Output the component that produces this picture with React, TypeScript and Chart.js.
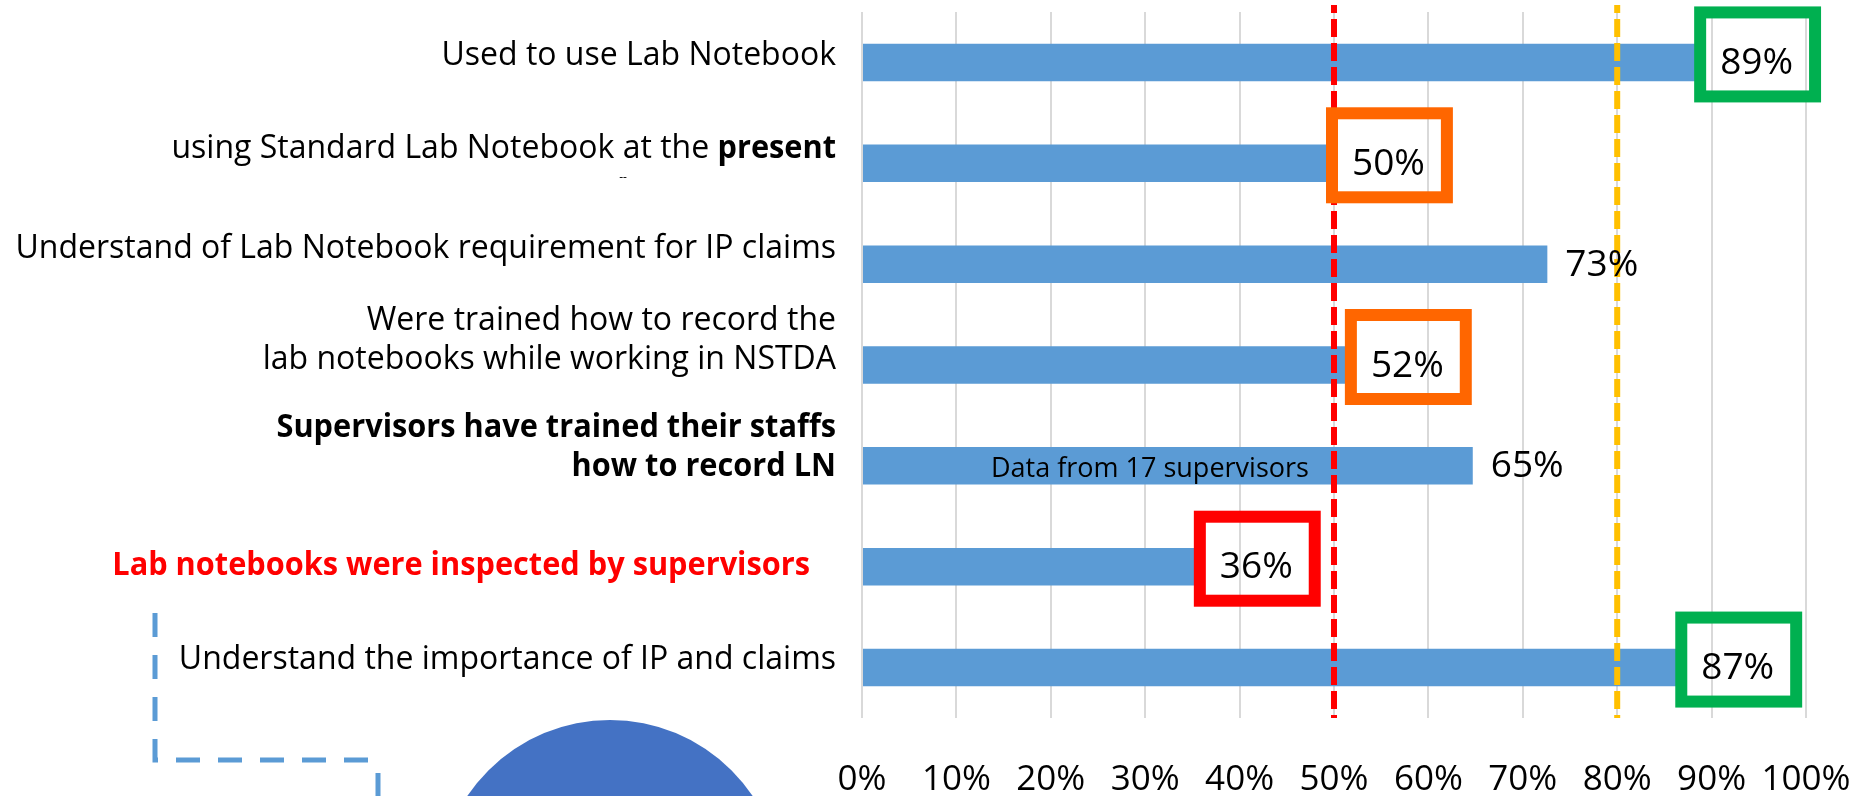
import React, { useEffect, useRef } from "react";
import { Chart, registerables } from "chart.js";

Chart.register(...registerables);

// ---------- data ----------
const categories: (string | string[])[] = [
  "Used to use Lab Notebook",
  "using Standard Lab Notebook at the present",
  "Understand of Lab Notebook requirement for IP claims",
  ["Were trained how to record the", "lab notebooks while working in NSTDA"],
  ["Supervisors have trained their staffs", "how to record LN"],
  "Lab notebooks were inspected by supervisors",
  "Understand the importance of IP and claims",
];
const values = [89, 50, 72.6, 52, 64.7, 36, 87];
const valueLabels = ["89%", "50%", "73%", "52%", "65%", "36%", "87%"];
const xTickLabels = ["0%", "10%", "20%", "30%", "40%", "50%", "60%", "70%", "80%", "90%", "100%"];
const thresholdValues = [50, 80];
const thresholdColors = ["#FF0000", "#FFC000"];
const highlightColors = ["#00B050", "#FF6600", "", "#FF6600", "", "#FF0000", "#00B050"];
const boldCategories = [4, 5];
const redCategories = [5];
const boldPhrases = ["present"];
const noteText = "Data from 17 supervisors";
const noteCategory = 4;
const noteValue = 30.5;

// ---------- layout / style ----------
const FONT = '"Open Sans", sans-serif';
const BAR_COLOR = "#5B9BD5";
const labelShiftY = [-9, -17, -18, -27, -21, -3, -10];
const labelShiftX = [0, 0, 0, 0, 0, -26, 0];
const LABEL_RIGHT = 836;
const LABEL_SIZE = 32;
const LABEL_LINE = 39;
const BOLD_SQUEEZE = 0.96;

function splitSegments(line: string, allBold: boolean): [string, boolean][] {
  if (allBold) return [[line, true]];
  for (const p of boldPhrases) {
    const i = line.indexOf(p);
    if (i >= 0) {
      const out: [string, boolean][] = [];
      if (i > 0) out.push([line.slice(0, i), false]);
      out.push([p, true]);
      if (i + p.length < line.length) out.push([line.slice(i + p.length), false]);
      return out;
    }
  }
  return [[line, false]];
}

const overlayPlugin = {
  id: "overlay",
  afterDatasetsDraw(chart: any) {
    const { ctx, chartArea } = chart;
    const xs = chart.scales.x;
    const ys = chart.scales.y;
    const meta = chart.getDatasetMeta(0);

    // note text inside bar
    ctx.save();
    ctx.font = `27px ${FONT}`;
    ctx.fillStyle = "#000";
    ctx.textAlign = "center";
    ctx.textBaseline = "alphabetic";
    ctx.fillText(noteText, xs.getPixelForValue(noteValue), ys.getPixelForValue(noteCategory) + 11);
    ctx.restore();

    // threshold dashed lines
    thresholdValues.forEach((v, i) => {
      const x = xs.getPixelForValue(v);
      ctx.save();
      ctx.strokeStyle = thresholdColors[i];
      ctx.lineWidth = 6;
      ctx.setLineDash([18, 6]);
      ctx.lineDashOffset = 10;
      ctx.beginPath();
      ctx.moveTo(x, chartArea.top - 7);
      ctx.lineTo(x, chartArea.bottom);
      ctx.stroke();
      ctx.restore();
    });

    // value labels + highlight boxes
    meta.data.forEach((bar: any, i: number) => {
      const lx = bar.x + 18;
      const cy = bar.y;
      ctx.save();
      ctx.font = `37px ${FONT}`;
      ctx.fillStyle = "#000";
      ctx.textAlign = "left";
      ctx.textBaseline = "middle";
      const w = ctx.measureText(valueLabels[i]).width;
      ctx.fillText(valueLabels[i], lx, cy + 1);
      if (highlightColors[i]) {
        const L = lx - 26;
        const R = lx + w + 28;
        const T = cy - 8 - 48;
        const B = cy - 8 + 48;
        ctx.strokeStyle = highlightColors[i];
        ctx.lineWidth = 12;
        ctx.setLineDash([]);
        ctx.strokeRect(L + 6, T + 6, R - L - 12, B - T - 12);
      }
      ctx.restore();
    });

    // category labels
    categories.forEach((cat, i) => {
      const lines = Array.isArray(cat) ? cat : [cat];
      const bold = boldCategories.includes(i);
      const color = redCategories.includes(i) ? "#FF0000" : "#000000";
      const center = ys.getPixelForValue(i) + labelShiftY[i];
      const right = LABEL_RIGHT + labelShiftX[i];
      const capHalf = (0.714 * LABEL_SIZE) / 2;
      lines.forEach((line, j) => {
        const baseline = center + capHalf + (j - (lines.length - 1) / 2) * LABEL_LINE;
        const segs = splitSegments(line, bold);
        ctx.save();
        ctx.fillStyle = color;
        ctx.textBaseline = "alphabetic";
        ctx.textAlign = "left";
        const widths = segs.map(([t, b]) => {
          ctx.font = `${b ? "bold " : ""}${LABEL_SIZE}px ${FONT}`;
          return ctx.measureText(t).width * (b ? BOLD_SQUEEZE : 1);
        });
        let x = right - widths.reduce((a, b) => a + b, 0);
        segs.forEach(([t, b], k) => {
          ctx.font = `${b ? "bold " : ""}${LABEL_SIZE}px ${FONT}`;
          if (b) {
            ctx.save();
            ctx.translate(x, baseline);
            ctx.scale(BOLD_SQUEEZE, 1);
            ctx.fillText(t, 0, 0);
            ctx.restore();
          } else {
            ctx.fillText(t, x, baseline);
          }
          x += widths[k];
        });
        ctx.restore();
      });
    });

    // tiny mark under second label
    ctx.save();
    ctx.font = `12px ${FONT}`;
    ctx.fillStyle = "#000";
    ctx.textAlign = "center";
    ctx.textBaseline = "middle";
    ctx.fillText("--", 623, ys.getPixelForValue(1) + 14);
    ctx.restore();

    // decorations: dashed connector and circle
    ctx.save();
    ctx.strokeStyle = BAR_COLOR;
    ctx.lineWidth = 5;
    ctx.setLineDash([24, 18]);
    ctx.beginPath();
    ctx.moveTo(155, 613);
    ctx.lineTo(155, 760);
    ctx.lineTo(372, 760);
    ctx.stroke();
    ctx.beginPath();
    ctx.moveTo(378, 773);
    ctx.lineTo(378, 800);
    ctx.stroke();
    ctx.restore();

    ctx.save();
    ctx.fillStyle = "#4472C4";
    ctx.beginPath();
    ctx.arc(610, 892, 172, 0, Math.PI * 2);
    ctx.fill();
    ctx.restore();
  },
};

export default function App() {
  const ref = useRef<HTMLCanvasElement | null>(null);
  useEffect(() => {
    if (!ref.current) return;
    const chart = new Chart(ref.current, {
      type: "bar",
      data: {
        labels: categories as any,
        datasets: [
          {
            data: values,
            backgroundColor: BAR_COLOR,
            borderWidth: 0,
            barPercentage: 0.372,
            categoryPercentage: 1,
          },
        ],
      },
      options: {
        indexAxis: "y",
        responsive: false,
        animation: false,
        devicePixelRatio: 1,
        layout: { padding: { top: 12, right: 60, left: 0, bottom: 0 } },
        plugins: { legend: { display: false }, tooltip: { enabled: false } },
        scales: {
          x: {
            min: 0,
            max: 100,
            ticks: {
              stepSize: 10,
              padding: 41,
              maxRotation: 0,
              minRotation: 0,
              autoSkip: false,
              color: "#000",
              font: { family: FONT, size: 35 },
              callback: (_v: any, i: number) => xTickLabels[i],
            },
            grid: { color: "#D9D9D9", lineWidth: 2, drawTicks: false },
            border: { display: false },
            afterFit: (s: any) => {
              s.height = 78;
              s.paddingLeft = 0;
              s.paddingRight = 0;
            },
          },
          y: {
            ticks: { display: false },
            grid: { display: false },
            border: { display: false },
            afterFit: (s: any) => {
              s.width = 862;
              s.paddingTop = 0;
              s.paddingBottom = 0;
            },
          },
        },
      },
      plugins: [overlayPlugin],
    });
    return () => chart.destroy();
  }, []);
  return (
    <div style={{ position: "fixed", left: 0, top: 0, width: 1866, height: 796, background: "#fff", overflow: "hidden" }}>
      <canvas ref={ref} width={1866} height={796} />
    </div>
  );
}
